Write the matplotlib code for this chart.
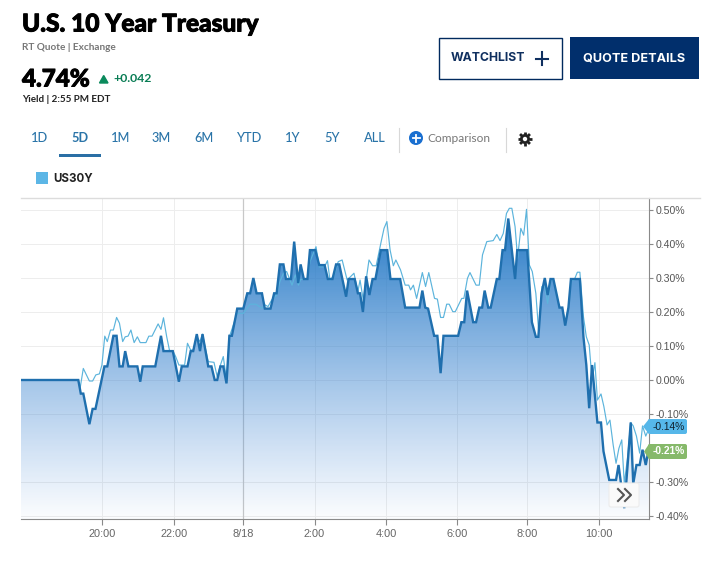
import numpy as np
import matplotlib
matplotlib.use("Agg")
import matplotlib.pyplot as plt
import matplotlib.patheffects as pe
from matplotlib.patches import Rectangle, Polygon, Circle, FancyBboxPatch

W, H = 723, 564

# hours relative to 8/18 00:00 and % change
main_hours = [-6.20,-4.60,-4.53,-4.46,-4.29,-4.20,-4.12,-3.87,-3.79,-3.62,-3.53,-3.45,-3.36,-3.29,-3.20,-2.95,-2.87,-2.80,-2.45,-2.29,-2.22,-1.96,-1.79,-1.71,-1.55,-1.46,-1.39,-1.29,-1.20,-1.13,-0.97,-0.88,-0.79,-0.72,-0.63,-0.55,-0.46,-0.38,-0.31,-0.16,0.01,0.12,0.20,0.29,0.38,0.53,0.61,0.77,0.87,0.94,1.03,1.13,1.20,1.34,1.43,1.54,1.61,1.70,1.80,1.87,2.02,2.13,2.28,2.37,2.50,2.60,2.69,2.88,2.95,3.12,3.21,3.27,3.35,3.44,3.53,3.62,3.70,3.85,4.03,4.12,4.39,4.53,4.93,5.01,5.09,5.17,5.34,5.43,5.52,5.60,6.01,6.10,6.18,6.26,6.43,6.51,6.60,6.68,6.75,6.85,6.92,7.09,7.16,7.25,7.32,7.41,7.60,7.66,7.94,8.07,8.18,8.25,8.34,8.43,8.51,8.59,8.67,8.84,8.92,9.00,9.09,9.16,9.41,9.51,9.59,9.67,9.75,9.90,10.00,10.07,10.23,10.42,10.49,10.65,10.74,10.83,10.90,10.99,11.08,11.16,11.25,11.33]
main_values = [0,0,-.04,-.04,-.13,-.085,-.085,.04,.04,.13,.13,.04,.04,.085,.04,.04,-.005,.04,.04,.13,.085,.085,-.005,.04,.04,.085,.085,.135,.085,.135,.04,.04,0,0,.04,.04,-.01,.13,.13,.21,.21,.255,.255,.30,.255,.255,.21,.21,.255,.255,.34,.34,.297,.297,.407,.285,.34,.297,.297,.382,.382,.338,.338,.297,.297,.34,.34,.245,.297,.297,.255,.255,.20,.305,.25,.297,.297,.382,.382,.297,.297,.213,.213,.263,.213,.21,.13,.13,.02,.13,.13,.17,.17,.263,.17,.17,.213,.213,.263,.213,.213,.297,.297,.382,.382,.475,.297,.382,.382,.17,.127,.127,.255,.30,.25,.297,.297,.213,.213,.16,.213,.297,.297,.127,.044,-.083,.044,-.125,-.125,-.21,-.294,-.294,-.25,-.377,-.255,-.125,-.305,-.25,-.25,-.205,-.25,-.205]
comp_hours = [-6.20,-4.60,-4.55,-4.46,-4.29,-4.20,-4.11,-4.01,-3.94,-3.86,-3.79,-3.70,-3.62,-3.53,-3.45,-3.36,-3.29,-3.21,-3.13,-3.04,-2.95,-2.87,-2.71,-2.63,-2.54,-2.37,-2.29,-2.22,-2.13,-2.05,-1.96,-1.88,-1.79,-1.63,-1.55,-1.46,-1.39,-1.29,-1.20,-1.13,-1.06,-0.97,-0.81,-0.72,-0.63,-0.55,-0.46,-0.38,-0.16,0.01,0.20,0.36,0.53,0.61,0.70,0.80,0.94,1.03,1.13,1.22,1.37,1.46,1.55,1.61,1.80,1.87,2.04,2.13,2.28,2.36,2.43,2.54,2.66,2.77,2.91,3.10,3.21,3.27,3.36,3.52,3.62,3.72,3.85,3.94,4.02,4.11,4.20,4.27,4.40,4.53,4.63,4.68,4.76,4.85,5.01,5.10,5.19,5.35,5.43,5.52,5.60,5.69,5.76,5.86,5.93,6.11,6.17,6.27,6.34,6.51,6.60,6.69,6.81,6.99,7.09,7.18,7.27,7.36,7.44,7.51,7.60,7.67,7.76,7.84,7.92,8.00,8.08,8.18,8.26,8.35,8.43,8.51,8.60,8.67,8.84,8.92,9.00,9.09,9.17,9.25,9.34,9.41,9.51,9.59,9.67,9.75,9.83,9.90,10.00,10.08,10.17,10.25,10.34,10.42,10.50,10.58,10.65,10.74,10.83,10.90,10.99,11.08,11.16,11.25,11.33]
comp_values = [0,0,-.025,.034,-.003,-.003,.015,.018,.044,.129,.113,.147,.147,.184,.167,.113,.127,.129,.147,.11,.127,.11,.11,.129,.129,.165,.149,.183,.127,.086,.086,.069,.044,.044,.108,.088,.088,.127,.113,.135,.098,.054,.052,.01,.044,.069,0,.127,.196,.196,.223,.223,.211,.221,.216,.235,.25,.289,.314,.319,.279,.309,.279,.296,.296,.348,.392,.333,.333,.351,.294,.306,.348,.353,.294,.314,.26,.294,.235,.353,.336,.336,.402,.446,.466,.382,.336,.353,.324,.279,.279,.265,.279,.24,.316,.275,.316,.24,.238,.184,.184,.223,.223,.201,.201,.24,.24,.299,.316,.279,.279,.368,.407,.41,.428,.41,.431,.49,.505,.505,.451,.358,.446,.426,.502,.338,.319,.255,.142,.275,.275,.225,.294,.294,.211,.211,.172,.211,.294,.294,.317,.317,.186,.127,.103,0,.051,-.059,-.041,-.078,-.132,-.118,-.191,-.245,-.201,-.176,-.304,-.23,-.125,-.135,-.165,-.215,-.135,-.165,-.145]

y_ticks = [0.5,0.4,0.3,0.2,0.1,0.0,-0.1,-0.3,-0.4]
y_labels = ["0.50%","0.40%","0.30%","0.20%","0.10%","0.00%","-0.10%","-0.30%","-0.40%"]
x_ticks = [-3.93,-1.93,0,2.0,4.0,5.97,7.94,9.94]
x_labels = ["20:00","22:00","8/18","2:00","4:00","6:00","8:00","10:00"]
ranges = ["1D","5D","1M","3M","6M","YTD","1Y","5Y","ALL"]
range_x = [39.5,80,120.5,161.5,204,250,292.5,332,374.5]

fig = plt.figure(figsize=(W/100, H/100), dpi=100, facecolor="white")
ax = fig.add_axes([21/W, 1-519/H, (649-21)/W, (519-198)/H])
xlim = (-6.20, (649-243)/35.8)
ylim = ((380-519)/340, (380-198)/340)
for s in ["top","left"]:
    ax.spines[s].set_visible(False)
ax.spines["right"].set_color("#8a8a8a")
ax.spines["bottom"].set_color("#8a8a8a")
ax.yaxis.tick_right()
ax.set_yticks(y_ticks, y_labels, fontsize=7.6, color="#555555", family="Liberation Sans")
ax.set_xticks(x_ticks, x_labels, fontsize=7.9, color="#666666", family="Liberation Sans")
ax.tick_params(axis="y", length=3, color="#8a8a8a", pad=2)
ax.tick_params(axis="x", length=4, color="#8a8a8a", pad=3)
ax.grid(True, color="#ededed", lw=0.7)
ax.axvline(0, color="#c8c8c8", lw=0.9, zorder=1)
ax.set_axisbelow(True)

# gradient fill under the main series
top, bottom = max(main_values), ylim[0]
n = 256
grad = np.zeros((n, 1, 4))
grad[..., 0] = np.linspace(0.13, 0.30, n)[:, None]
grad[..., 1] = np.linspace(0.47, 0.55, n)[:, None]
grad[..., 2] = np.linspace(0.77, 0.85, n)[:, None]
grad[..., 3] = np.linspace(0.98, 0.02, n)[:, None]
im = ax.imshow(grad, extent=[xlim[0], xlim[1], bottom, top], origin="upper", aspect="auto", zorder=2)
clip = Polygon(np.r_[[[main_hours[0], bottom]], np.c_[main_hours, main_values], [[main_hours[-1], bottom]]],
               transform=ax.transData, facecolor="none", edgecolor="none")
ax.add_patch(clip)
im.set_clip_path(clip)
ax.set_xlim(*xlim)
ax.set_ylim(*ylim)

ax.plot(comp_hours, comp_values, color="#5cb4dc", lw=0.85, zorder=3)
ax.plot(main_hours, main_values, color="#1f6fae", lw=1.7, zorder=4, solid_joinstyle="miter")

# overlay in pixel coordinates
ov = fig.add_axes([0, 0, 1, 1], facecolor="none")
ov.set_xlim(0, W); ov.set_ylim(H, 0); ov.axis("off")
ov.set_zorder(5)
sans = ["Lato", "DejaVu Sans"]
wide = ["Inter", "DejaVu Sans"]
heavy = [pe.withStroke(linewidth=0.7, foreground="black")]
ov.plot([21, 700], [198, 198], color="#dcdcdc", lw=1)
ov.text(22, 24, "U.S. 10 Year Treasury", fontsize=17.6, weight=900, family=sans, color="black",
        va="center", path_effects=heavy)
ov.text(22, 47, "RT Quote | Exchange", fontsize=7.2, weight="bold", family=sans, color="#777777", va="center")
ov.text(22, 79, "4.74%", fontsize=17.4, weight=900, family=sans, color="black", va="center", path_effects=heavy)
ov.add_patch(Polygon([[99.5, 83], [108, 83], [103.7, 75.5]], color="#0a8a5c"))
ov.text(113, 79, "+0.042", fontsize=8.8, weight="bold", family=sans, color="#0a7d55", va="center")
ov.text(22, 100, "Yield | 2:55 PM EDT", fontsize=7.1, weight="bold", family=sans, color="#222222", va="center")
# buttons
ov.add_patch(Rectangle((438.5, 37.5), 123, 41, fc="white", ec="#012a5e", lw=1.0))
ov.text(451, 58, "WATCHLIST", fontsize=8.8, weight="bold", family=wide, color="#0f2f5f", va="center")
ov.plot([536, 548], [58.5, 58.5], color="#0f2f5f", lw=1.5)
ov.plot([542, 542], [52, 65], color="#0f2f5f", lw=1.5)
ov.add_patch(Rectangle((570, 37), 129, 42, fc="#012f6c", ec="none"))
ov.text(634.5, 58, "QUOTE DETAILS", fontsize=9.1, weight="bold", family=wide, color="white", va="center", ha="center")
# range tabs
for lab, x in zip(ranges, range_x):
    ov.text(x, 138.5, lab, fontsize=9.2, weight="bold" if lab == "5D" else 500, family=sans,
            color="#2a74a8", va="center", ha="center")
ov.add_patch(Rectangle((59, 154), 42, 3, fc="#2a6fa5", ec="none"))
ov.plot([398.5, 398.5], [128, 152], color="#d8d8d8", lw=0.8)
ov.plot([505.5, 505.5], [128, 152], color="#d8d8d8", lw=0.8)
ov.add_patch(Circle((416, 138), 7, fc="#1a6fd0", ec="none"))
ov.plot([412.5, 419.5], [138, 138], color="white", lw=1.3)
ov.plot([416, 416], [134.5, 141.5], color="white", lw=1.3)
ov.text(427, 138, "Comparison", fontsize=8.6, family=sans, color="#777777", va="center")
# gear icon
for ang in np.arange(0, 360, 45):
    c, s = np.cos(np.radians(ang)), np.sin(np.radians(ang))
    ov.plot([525 + 4*c, 525 + 7*c], [139 + 4*s, 139 + 7*s], color="#222222", lw=2.0, solid_capstyle="butt")
ov.add_patch(Circle((525, 139), 5, fc="#222222", ec="none"))
ov.add_patch(Circle((525, 139), 2.2, fc="white", ec="none"))
# legend
ov.add_patch(Rectangle((36, 172), 12, 12, fc="#5cb6e6", ec="none"))
ov.text(53, 179, "US30Y", fontsize=8.3, weight="bold", family=wide, color="#222222", va="center")
# value callouts
ov.add_patch(FancyBboxPatch((648, 419), 39, 15, boxstyle="round,pad=0,rounding_size=2", fc="#56b7e9", ec="none"))
ov.add_patch(Polygon([[643, 426.5], [649, 419], [649, 434]], fc="#56b7e9", ec="none"))
ov.text(668.5, 426.5, "-0.14%", fontsize=7.4, color="#10202c", family="Liberation Sans", ha="center", va="center")
ov.add_patch(FancyBboxPatch((648, 444), 39, 15, boxstyle="round,pad=0,rounding_size=2", fc="#86b96a", ec="none"))
ov.add_patch(Polygon([[644, 451.5], [649, 444], [649, 459]], fc="#86b96a", ec="none"))
ov.text(668.5, 451.5, "-0.21%", fontsize=7.4, color="white", weight="bold", family="Liberation Sans", ha="center", va="center")
# scroll button
ov.add_patch(FancyBboxPatch((609, 483), 30, 24, boxstyle="round,pad=0,rounding_size=2", fc="#fafafa", ec="#ececec", lw=0.8))
ov.plot([618, 624, 618], [489, 495, 501], color="#555555", lw=1.5)
ov.plot([625, 631, 625], [489, 495, 501], color="#555555", lw=1.5)

fig.savefig("out.png", dpi=100, facecolor="white")
